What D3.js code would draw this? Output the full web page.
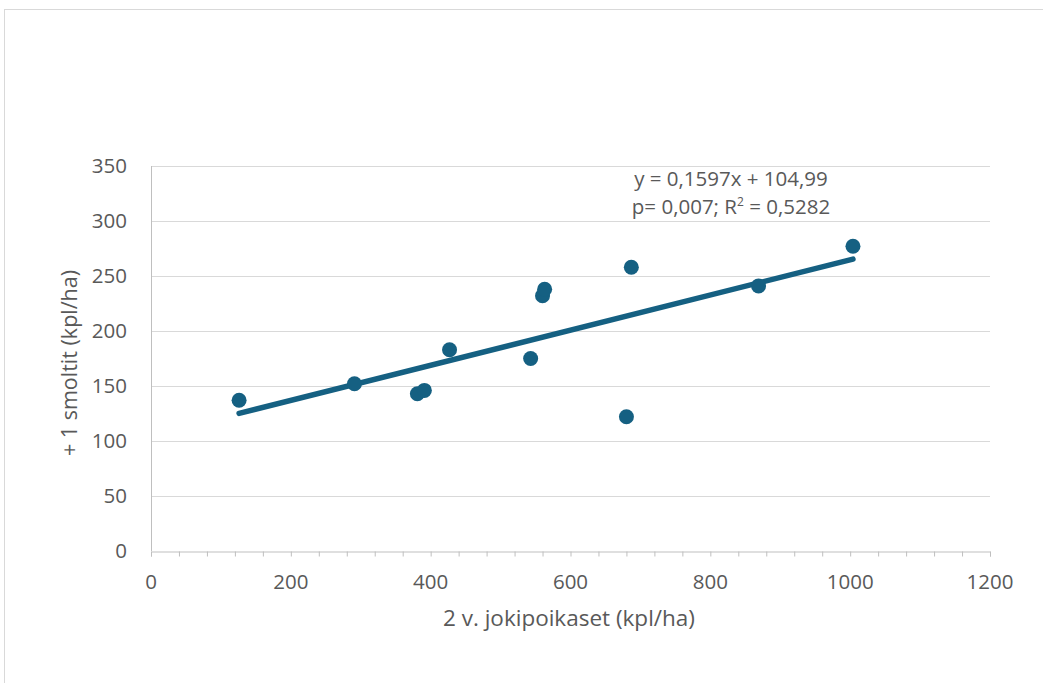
<!DOCTYPE html>
<html>
<head>
<meta charset="utf-8">
<script src="https://cdn.jsdelivr.net/npm/d3@7"></script>
<style>
  body { margin: 0; background: #fff; }
  text { font-family: "Open Sans", "Noto Sans", sans-serif; fill: #595959; }
</style>
</head>
<body>
<div id="chart"></div>
<script>
// havainnot: 2 v. jokipoikaset vs. +1 smoltit
const jokipoikaset = [126, 291, 381, 391, 427, 543, 560, 563, 687, 680, 869, 1004];
const smoltit      = [137, 152, 143, 146, 183, 175, 232, 238, 258, 122, 241, 277];
const xTicks = [0, 200, 400, 600, 800, 1000, 1200];
const yTicks = [0, 50, 100, 150, 200, 250, 300, 350];
const slope = 0.1597, intercept = 104.99;
const eqLines = ["y = 0,1597x + 104,99", "p= 0,007; R"];

const W = 1043, H = 683;
const svg = d3.select("#chart").append("svg").attr("width", W).attr("height", H);

// kaavion reunus
svg.append("rect").attr("x", 4.5).attr("y", 9.5).attr("width", W + 10).attr("height", H + 10)
    .attr("fill", "none").attr("stroke", "#d9d9d9");

const x = d3.scaleLinear().domain([0, 1200]).range([151, 990]);
const y = d3.scaleLinear().domain([0, 350]).range([551, 166]);

// vaakaviivat
svg.append("g").selectAll("line").data(yTicks.filter(d => d > 0)).join("line")
    .attr("x1", x(0)).attr("x2", x(1200))
    .attr("y1", d => y(d) + 0.5).attr("y2", d => y(d) + 0.5)
    .attr("stroke", "#d9d9d9").attr("stroke-width", 1);

// x-akseli
const xAxis = svg.append("g").attr("transform", `translate(0,${y(0) + 0.5})`)
    .call(d3.axisBottom(x).tickValues(d3.range(0, 1201, 40)).tickSize(5).tickFormat(""));
xAxis.select(".domain").attr("stroke", "#bfbfbf");
xAxis.selectAll(".tick line").attr("stroke", "#bfbfbf");

svg.append("g").selectAll("text").data(xTicks).join("text")
    .attr("x", d => x(d)).attr("y", 589)
    .attr("text-anchor", "middle").attr("font-size", 20.5)
    .text(d => d);

// y-akseli
svg.append("line").attr("x1", x(0) + 0.5).attr("x2", x(0) + 0.5)
    .attr("y1", y(350)).attr("y2", y(0))
    .attr("stroke", "#bfbfbf");

svg.append("g").selectAll("text").data(yTicks).join("text")
    .attr("x", 127).attr("y", d => y(d) + 7)
    .attr("text-anchor", "end").attr("font-size", 20.5)
    .text(d => d);

// akselien otsikot
svg.append("text").attr("x", 569).attr("y", 626)
    .attr("text-anchor", "middle").attr("font-size", 22.5)
    .text("2 v. jokipoikaset (kpl/ha)");
svg.append("text").attr("transform", `translate(77,${363}) rotate(-90)`)
    .attr("text-anchor", "middle").attr("font-size", 21.5)
    .text("+ 1 smoltit (kpl/ha)");

const col = "#156082";

// trendiviiva
const xmin = d3.min(jokipoikaset), xmax = d3.max(jokipoikaset);
svg.append("line")
    .attr("x1", x(xmin)).attr("y1", y(slope * xmin + intercept))
    .attr("x2", x(xmax)).attr("y2", y(slope * xmax + intercept))
    .attr("stroke", col).attr("stroke-width", 5.5).attr("stroke-linecap", "round");

// pisteet
svg.append("g").selectAll("circle").data(jokipoikaset).join("circle")
    .attr("cx", d => x(d)).attr("cy", (d, i) => y(smoltit[i]))
    .attr("r", 7.5).attr("fill", col);

// yhtälö
const eq = svg.append("g").attr("font-size", 20.5);
eq.append("text").attr("x", 731).attr("y", 186).attr("text-anchor", "middle").text(eqLines[0]);
const t2 = eq.append("text").attr("x", 731).attr("y", 214).attr("text-anchor", "middle");
t2.append("tspan").text(eqLines[1]);
t2.append("tspan").attr("dy", -8).attr("font-size", 12).text("2");
t2.append("tspan").attr("dy", 8).text(" = 0,5282");
</script>
</body>
</html>
